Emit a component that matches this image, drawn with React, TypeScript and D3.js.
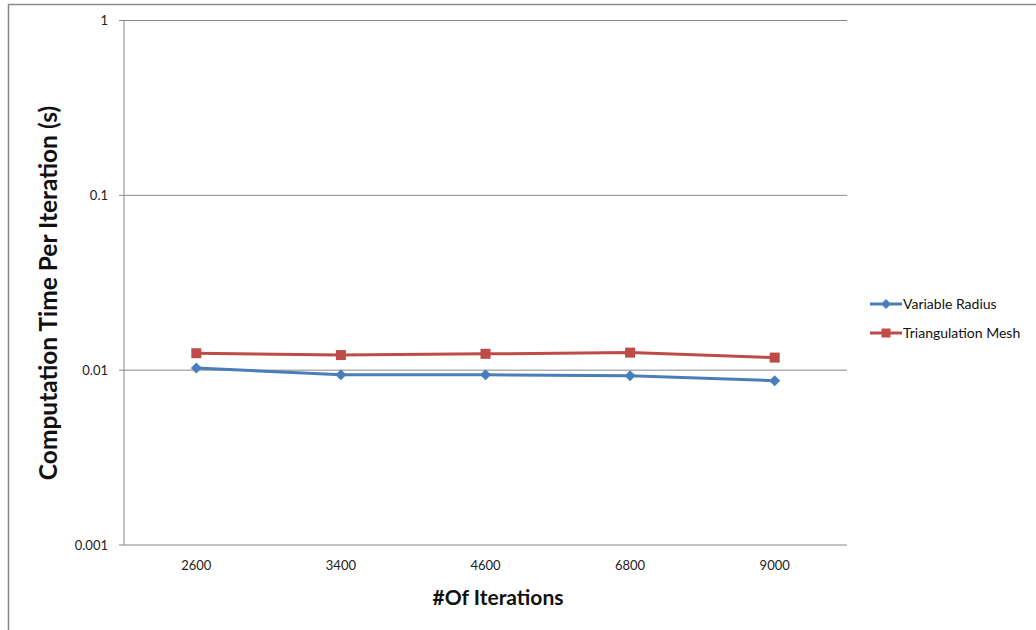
import React from "react";
import * as d3 from "d3";

const categories = ["2600", "3400", "4600", "6800", "9000"];
const variableRadius = [0.0103, 0.0094, 0.0094, 0.0093, 0.0087];
const triangulationMesh = [0.0125, 0.0122, 0.0124, 0.0126, 0.0118];
const yTicks = [0.001, 0.01, 0.1, 1];
const yTickLabels = ["0.001", "0.01", "0.1", "1"];

const BLUE = "#4A7EBB";
const RED = "#BE4B48";
const GRID = "#878787";
const FONT = "Lato, 'Open Sans', sans-serif";

export default function App() {
  const W = 1036, H = 630;
  const left = 124, right = 847, top = 20.5, bottom = 545;
  const x = d3.scaleBand().domain(categories).range([left, right]);
  const y = d3.scaleLog().domain([0.001, 1]).range([bottom, top]);
  const cx = (c: string) => (x(c) as number) + x.bandwidth() / 2;
  const line = d3.line<number>().x((_, i) => cx(categories[i])).y((v) => y(v));

  const diamond = (px: number, py: number, r: number) =>
    `M${px},${py - r}L${px + r},${py}L${px},${py + r}L${px - r},${py}Z`;

  return (
    <svg width={W} height={H} style={{ position: "absolute", left: 0, top: 0, display: "block" }}>
      <rect x={0} y={0} width={W} height={H} fill="#fff" />
      <rect x={8.5} y={4.5} width={W + 20} height={H + 20} fill="none" stroke="#8a8a8a" strokeWidth={1.5} />
      {/* gridlines */}
      {yTicks.map((t) => (
        <line key={t} x1={left - 5} x2={right} y1={y(t)} y2={y(t)} stroke={GRID} strokeWidth={1} />
      ))}
      {/* y axis */}
      <line x1={left} x2={left} y1={top} y2={bottom} stroke={GRID} strokeWidth={1} />
      {yTicks.map((t, i) => (
        <text key={"l" + t} x={108} y={y(t)} dy="0.35em" textAnchor="end" fontSize={13} fontFamily={FONT} fill="#222">
          {yTickLabels[i]}
        </text>
      ))}
      {categories.map((c) => (
        <text key={c} x={cx(c)} y={570} textAnchor="middle" fontSize={13} fontFamily={FONT} fill="#222">
          {c}
        </text>
      ))}
      {/* series */}
      <path d={line(variableRadius) as string} fill="none" stroke={BLUE} strokeWidth={3} strokeLinejoin="round" />
      <path d={line(triangulationMesh) as string} fill="none" stroke={RED} strokeWidth={3} strokeLinejoin="round" />
      {variableRadius.map((v, i) => (
        <path key={"b" + i} d={diamond(cx(categories[i]), y(v), 5.5)} fill={BLUE} />
      ))}
      {triangulationMesh.map((v, i) => (
        <rect key={"r" + i} x={cx(categories[i]) - 5} y={y(v) - 5} width={10} height={10} fill={RED} />
      ))}
      {/* titles */}
      <text x={498} y={605} textAnchor="middle" fontSize={21} fontWeight="bold" fontFamily={FONT} fill="#111">
        #Of Iterations
      </text>
      <text
        transform={`translate(57,293) rotate(-90)`}
        textAnchor="middle"
        fontSize={24.5}
        fontWeight="bold"
        fontFamily={FONT}
        fill="#111"
      >
        Computation Time Per Iteration (s)
      </text>
      {/* legend */}
      <line x1={870} x2={902} y1={304} y2={304} stroke={BLUE} strokeWidth={3} />
      <path d={diamond(886, 304, 5)} fill={BLUE} />
      <text x={903} y={304} dy="0.35em" fontSize={14} fontFamily={FONT} fill="#111">Variable Radius</text>
      <line x1={870} x2={902} y1={333} y2={333} stroke={RED} strokeWidth={3} />
      <rect x={881.5} y={328.5} width={9} height={9} fill={RED} />
      <text x={903} y={333} dy="0.35em" fontSize={14} fontFamily={FONT} fill="#111">Triangulation Mesh</text>
    </svg>
  );
}
